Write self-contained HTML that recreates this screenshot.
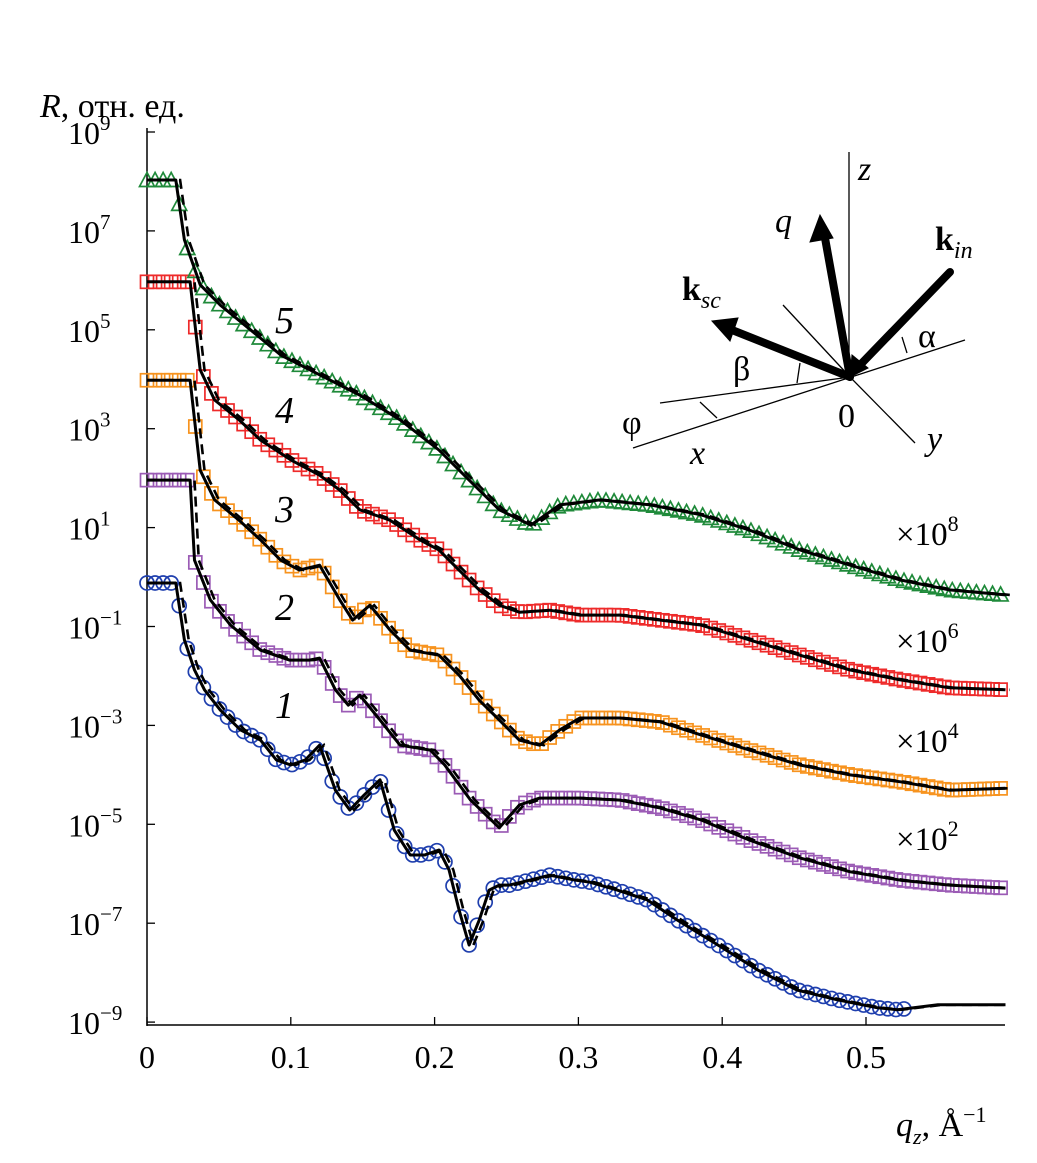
<!DOCTYPE html>
<html><head><meta charset="utf-8"><style>
body{margin:0;background:#fff;}
svg{display:block;font-family:"Liberation Serif",serif;}
</style></head><body>
<svg id="chart" width="1037" height="1163" viewBox="0 0 1037 1163">
<g id="axes"></g>
<g id="series"></g>
<g id="labels"></g>
<g id="inset" stroke="#000" fill="none">
  <line x1="849" y1="152" x2="849" y2="377" stroke-width="1.3"/>
  <line x1="633" y1="448" x2="965" y2="340" stroke-width="1.3"/>
  <line x1="660" y1="403" x2="850" y2="377" stroke-width="1.3"/>
  <line x1="850" y1="377" x2="915" y2="443" stroke-width="1.3"/>
  <line x1="783" y1="305" x2="850" y2="377" stroke-width="1.3"/>
  <line x1="902" y1="337" x2="907" y2="353" stroke-width="1.3"/>
  <line x1="800" y1="363" x2="797" y2="383" stroke-width="1.3"/>
  <line x1="700" y1="402" x2="717" y2="418" stroke-width="1.3"/>
  <line x1="850" y1="377" x2="825" y2="238" stroke-width="8" stroke-linecap="round"/>
  <polygon points="820,215 810,242 833,238" fill="#000"/>
  <line x1="950" y1="272" x2="862" y2="363" stroke-width="8" stroke-linecap="round"/>
  <polygon points="850,377 852,355 868,368" fill="#000"/>
  <line x1="850" y1="377" x2="732" y2="330" stroke-width="8" stroke-linecap="round"/>
  <polygon points="712,321 738,318 730,341" fill="#000"/>
  <g stroke="none" fill="#000" font-size="34">
    <text x="858" y="180" font-style="italic">z</text>
    <text x="775" y="232" font-style="italic">q</text>
    <text x="935" y="250" font-weight="bold">k<tspan font-size="24" font-style="italic" font-weight="normal" dy="8">in</tspan></text>
    <text x="682" y="300" font-weight="bold">k<tspan font-size="24" font-style="italic" font-weight="normal" dy="8">sc</tspan></text>
    <text x="918" y="347">α</text>
    <text x="733" y="380">β</text>
    <text x="622" y="434">φ</text>
    <text x="690" y="464" font-style="italic">x</text>
    <text x="838" y="427">0</text>
    <text x="927" y="450" font-style="italic">y</text>
  </g>
</g>
</svg>
<script>
const NS="http://www.w3.org/2000/svg";
// data: q (Å^-1) and displayed log10 R
const q1=[0,0.02,0.026,0.033,0.040,0.051,0.065,0.079,0.090,0.100,0.110,0.120,0.131,0.141,0.151,0.162,0.172,0.183,0.193,0.203,0.210,0.217,0.224,0.231,0.238,0.245,0.252,0.266,0.280,0.298,0.308,0.327,0.348,0.369,0.397,0.425,0.452,0.480,0.508,0.522,0.550,0.597];
const r1=[-0.12,-0.12,-1.27,-1.88,-2.28,-2.69,-3.09,-3.30,-3.70,-3.80,-3.70,-3.40,-4.31,-4.71,-4.41,-4.10,-5.12,-5.62,-5.62,-5.52,-5.92,-6.73,-7.44,-6.94,-6.33,-6.23,-6.23,-6.13,-6.03,-6.13,-6.17,-6.33,-6.53,-6.94,-7.44,-7.95,-8.35,-8.55,-8.71,-8.75,-8.65,-8.65];
const q2=[0,0.030,0.033,0.044,0.058,0.079,0.099,0.113,0.120,0.131,0.140,0.148,0.162,0.176,0.197,0.207,0.225,0.245,0.259,0.273,0.301,0.329,0.357,0.385,0.419,0.454,0.489,0.524,0.558,0.597];
const r2=[1.96,1.96,0.34,-0.46,-0.97,-1.48,-1.68,-1.68,-1.64,-2.28,-2.59,-2.39,-2.89,-3.40,-3.50,-3.80,-4.51,-5.07,-4.61,-4.47,-4.47,-4.51,-4.67,-4.91,-5.32,-5.68,-5.96,-6.13,-6.23,-6.29];
const q3=[0,0.030,0.037,0.047,0.064,0.079,0.093,0.106,0.120,0.134,0.143,0.155,0.169,0.183,0.203,0.217,0.231,0.245,0.259,0.273,0.287,0.301,0.329,0.357,0.385,0.419,0.454,0.489,0.524,0.558,0.597];
const r3=[3.98,3.98,2.16,1.56,1.15,0.75,0.34,0.14,0.24,-0.46,-0.87,-0.57,-1.07,-1.48,-1.58,-1.98,-2.49,-2.89,-3.30,-3.40,-3.09,-2.85,-2.85,-2.93,-3.19,-3.50,-3.80,-4.00,-4.14,-4.31,-4.27];
const q4=[0,0.030,0.037,0.047,0.064,0.079,0.100,0.120,0.134,0.148,0.169,0.190,0.203,0.217,0.231,0.245,0.259,0.280,0.301,0.329,0.357,0.385,0.419,0.454,0.489,0.524,0.558,0.597];
const r4=[5.97,5.97,4.19,3.58,3.18,2.77,2.37,2.06,1.76,1.36,1.15,0.75,0.55,0.14,-0.26,-0.57,-0.71,-0.67,-0.77,-0.77,-0.87,-0.97,-1.27,-1.58,-1.88,-2.08,-2.24,-2.28];
const q5=[0,0.020,0.026,0.037,0.051,0.072,0.093,0.120,0.148,0.176,0.203,0.224,0.245,0.267,0.287,0.315,0.350,0.385,0.419,0.454,0.489,0.524,0.558,0.597];
const r5=[8.03,8.03,6.82,5.91,5.50,5.00,4.49,4.09,3.68,3.18,2.57,1.96,1.36,1.05,1.46,1.56,1.46,1.26,0.95,0.55,0.24,-0.06,-0.26,-0.36];
const xTicks=[0,0.1,0.2,0.3,0.4,0.5];
const xTickLabels=["0","0.1","0.2","0.3","0.4","0.5"];
const yTicks=[9,7,5,3,1,-1,-3,-5,-7,-9];
const curveNames=["1","2","3","4","5"];
const scaleLabels=["8","6","4","2"];

const X=q=>147+q*1438;
const Y=l=>132+(9-l)*49.45;
function mk(tag,attrs,parent){const e=document.createElementNS(NS,tag);for(const k in attrs)e.setAttribute(k,attrs[k]);parent.appendChild(e);return e;}
const axes=document.getElementById('axes'),series=document.getElementById('series'),labels=document.getElementById('labels');

let a=mk('line',{x1:147,y1:128,x2:147,y2:1026,stroke:'#000','stroke-width':1.5},axes);

a=mk('line',{x1:147,y1:1025,x2:1005,y2:1025,stroke:'#000','stroke-width':1.5},axes);

xTicks.forEach((v,i)=>{
  const t=mk('line',{x1:X(v),y1:1025,x2:X(v),y2:1017,stroke:'#000','stroke-width':1.3},axes);
  
  const l=mk('text',{x:X(v),y:1068,'font-size':32,'text-anchor':'middle'},labels);
  l.textContent=xTickLabels[i];
  
});
yTicks.forEach(v=>{
  const t=mk('line',{x1:147,y1:Y(v),x2:155,y2:Y(v),stroke:'#000','stroke-width':1.3},axes);
  
  const l=mk('text',{x:68,y:Y(v)+12,'font-size':32},labels);
  l.innerHTML='10<tspan font-size="21" dy="-14">'+(v<0?'−'+(-v):v)+'</tspan>';
  
});
let t=mk('text',{x:40,y:117,'font-size':34},labels);
t.innerHTML='<tspan font-style="italic">R</tspan>, отн. ед.';

t=mk('text',{x:896,y:1136,'font-size':34},labels);
t.innerHTML='<tspan font-style="italic">q</tspan><tspan font-style="italic" font-size="22" dy="8">z</tspan><tspan dy="-8">, Å</tspan><tspan font-size="22" dy="-14">−1</tspan>';


const all=[[q1,r1],[q2,r2],[q3,r3],[q4,r4],[q5,r5]];
const colors=['#1f3fae','#9b5bb5','#f7931e','#ee2a2a','#1f8a3a'];
const shapes=['circle','square','square','square','triangle'];
function interp(qs,rs,q){for(let i=1;i<qs.length;i++){if(q<=qs[i]){const f=(q-qs[i-1])/(qs[i]-qs[i-1]);return rs[i-1]+f*(rs[i]-rs[i-1]);}}return rs[rs.length-1];}
function pathOf(qs,rs,dq){return qs.map((q,i)=>(i?'L':'M')+X(q+(i?dq:0)).toFixed(1)+','+Y(rs[i]).toFixed(1)).join(' ');}

all.forEach(([qs,rs],k)=>{
  const g=mk('g',{},series);
  
  const qmax=k===0?0.53:0.595;
  const c=colors[k];
  for(let q=0;q<=qmax;q+=0.0056){
    const x=X(q),y=Y(interp(qs,rs,q));
    let m;
    if(shapes[k]==='circle') m=mk('circle',{cx:x,cy:y,r:7,fill:'none',stroke:c,'stroke-width':1.7},g);
    else if(shapes[k]==='square') m=mk('rect',{x:x-6.5,y:y-6.5,width:13,height:13,fill:'none',stroke:c,'stroke-width':1.7},g);
    else m=mk('polygon',{points:`${x},${y-7.5} ${x-7.5},${y+6.5} ${x+7.5},${y+6.5}`,fill:'none',stroke:c,'stroke-width':1.7},g);
    
  }
  const d=mk('path',{d:pathOf(qs,rs,0.003),fill:'none',stroke:'#000','stroke-width':2.6,'stroke-dasharray':'10,6'},g);
  
  const s=mk('path',{d:pathOf(qs,rs,0),fill:'none',stroke:'#000','stroke-width':3,'stroke-linejoin':'round'},g);
  
});
const numY=[718,620,522,423,333];
curveNames.forEach((n,i)=>{
  const l=mk('text',{x:275,y:numY[i],'font-size':38,'font-style':'italic'},labels);
  l.textContent=n;
  
});
const scY=[545,652,752,850];
scaleLabels.forEach((s,i)=>{
  const l=mk('text',{x:896,y:scY[i],'font-size':33},labels);
  l.innerHTML='×10<tspan font-size="22" dy="-14">'+s+'</tspan>';
  
});
</script>
</body></html>
